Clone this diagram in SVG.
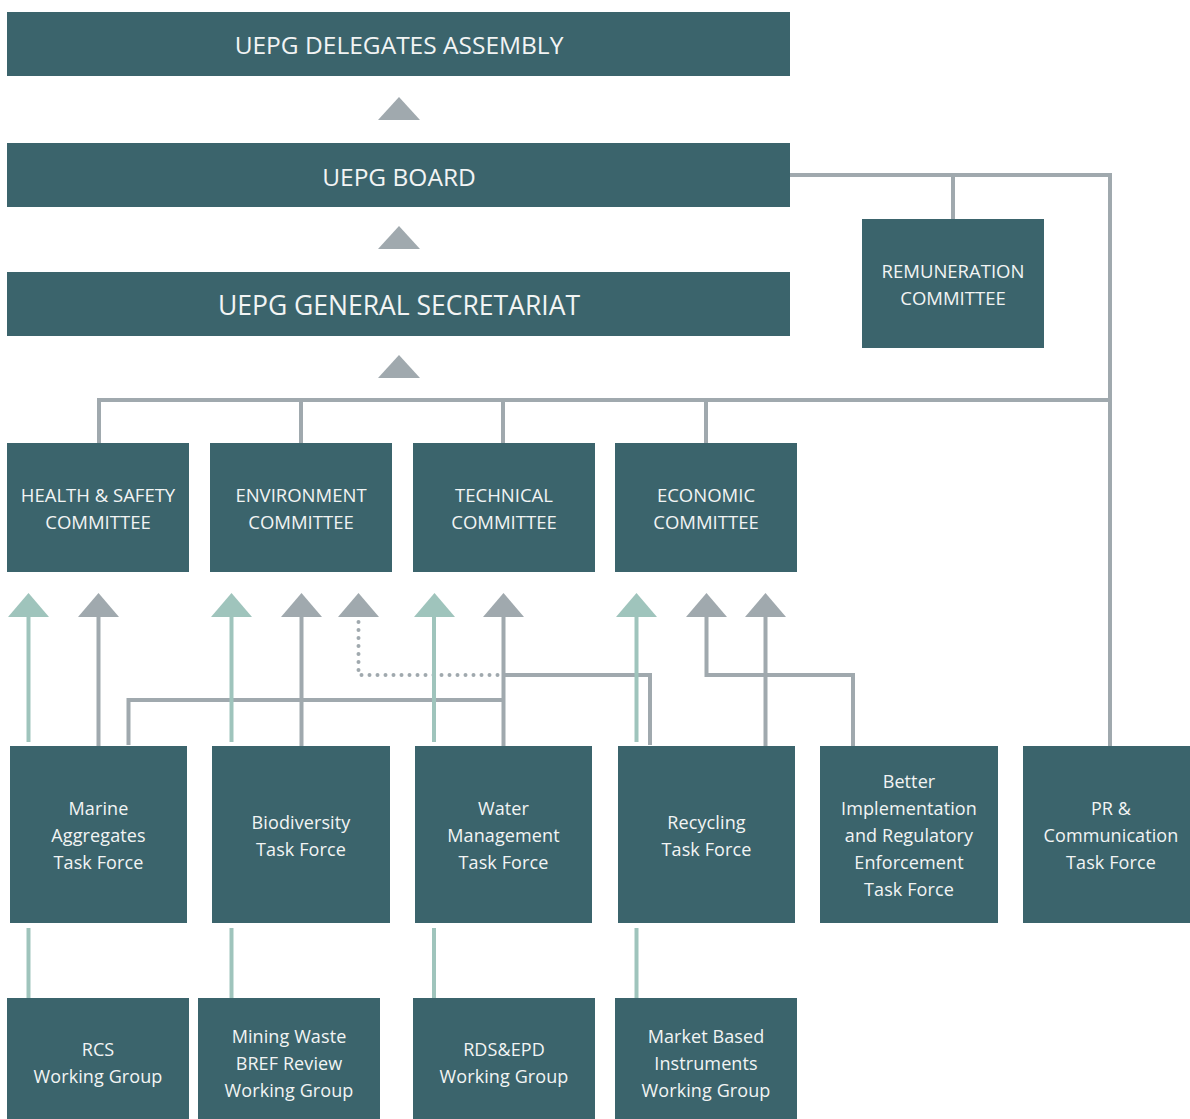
<svg xmlns="http://www.w3.org/2000/svg" width="1190" height="1119" viewBox="0 0 1190 1119">
<defs>
<style>
.box{fill:#3b646c}
.t{font-family:"Open Sans","Noto Sans",sans-serif;fill:#f2f4f4;text-anchor:middle;font-weight:500}
.big{font-size:24.5px}
.cap{font-size:18.5px}
.low{font-size:18px;letter-spacing:0.1px}
.g{stroke:#a0a9ae;stroke-width:4;fill:none}
.tl{stroke:#9fc4bc;stroke-width:4;fill:none}
.dot{stroke:#a0a9ae;stroke-width:4;fill:none;stroke-dasharray:0 8;stroke-linecap:round}
.ga{fill:#a0a9ae}
.ta{fill:#9fc4bc}
</style>
</defs>
<g id="connectors">
<polygon class="ga" points="378,120 420,120 399,97"/>
<polygon class="ga" points="378,249 420,249 399,226"/>
<polygon class="ga" points="378,378 420,378 399,355"/>
<polyline class="g" points="790,175 1110,175 1110,746"/>
<line class="g" x1="953" y1="175" x2="953" y2="219"/>
<polyline class="g" points="99,443 99,400 1110,400"/>
<line class="g" x1="301" y1="400" x2="301" y2="443"/>
<line class="g" x1="503" y1="400" x2="503" y2="443"/>
<line class="g" x1="706" y1="400" x2="706" y2="443"/>
<polygon class="ta" points="8,617 49,617 28.5,593"/>
<polygon class="ga" points="78,617 119,617 98.5,593"/>
<polygon class="ta" points="211,617 252,617 231.5,593"/>
<polygon class="ga" points="281,617 322,617 301.5,593"/>
<polygon class="ga" points="338,617 379,617 358.5,593"/>
<polygon class="ta" points="414,617 455,617 434.5,593"/>
<polygon class="ga" points="483,617 524,617 503.5,593"/>
<polygon class="ta" points="616,617 657,617 636.5,593"/>
<polygon class="ga" points="686,617 727,617 706.5,593"/>
<polygon class="ga" points="745,617 786,617 765.5,593"/>
<line class="tl" x1="28.5" y1="616" x2="28.5" y2="742"/>
<line class="g" x1="98.5" y1="616" x2="98.5" y2="746"/>
<polyline class="g" points="128.5,745 128.5,700 503.5,700"/>
<line class="tl" x1="231.5" y1="616" x2="231.5" y2="742"/>
<line class="g" x1="301.5" y1="616" x2="301.5" y2="746"/>
<polyline class="dot" points="358.5,622 358.5,675 500,675"/>
<line class="tl" x1="434" y1="616" x2="434" y2="742"/>
<line class="g" x1="503.5" y1="616" x2="503.5" y2="746"/>
<polyline class="g" points="503.5,675 650,675 650,745"/>
<line class="tl" x1="636.5" y1="616" x2="636.5" y2="742"/>
<polyline class="g" points="706.5,616 706.5,675 853,675 853,746"/>
<line class="g" x1="765.5" y1="616" x2="765.5" y2="746"/>
<line class="tl" x1="28.5" y1="928" x2="28.5" y2="998"/>
<line class="tl" x1="231.5" y1="928" x2="231.5" y2="998"/>
<line class="tl" x1="434" y1="928" x2="434" y2="998"/>
<line class="tl" x1="636.5" y1="928" x2="636.5" y2="998"/>
</g>
<g id="delegates"><rect class="box" x="7" y="12" width="783" height="64"/><text class="t big" x="399" y="54">UEPG DELEGATES ASSEMBLY</text></g>
<g id="board"><rect class="box" x="7" y="143" width="783" height="64"/><text class="t big" x="399" y="186">UEPG BOARD</text></g>
<g id="secretariat"><rect class="box" x="7" y="272" width="783" height="64"/><text class="t" style="font-size:26.5px" x="399" y="315">UEPG GENERAL SECRETARIAT</text></g>
<g id="remuneration"><rect class="box" x="862" y="219" width="182" height="129"/><text class="t cap" x="953" y="278">REMUNERATION</text><text class="t cap" x="953" y="305">COMMITTEE</text></g>
<g id="health"><rect class="box" x="7" y="443" width="182" height="129"/><text class="t cap" x="98" y="502">HEALTH &amp; SAFETY</text><text class="t cap" x="98" y="529">COMMITTEE</text></g>
<g id="environment"><rect class="box" x="210" y="443" width="182" height="129"/><text class="t cap" x="301" y="502">ENVIRONMENT</text><text class="t cap" x="301" y="529">COMMITTEE</text></g>
<g id="technical"><rect class="box" x="413" y="443" width="182" height="129"/><text class="t cap" x="504" y="502">TECHNICAL</text><text class="t cap" x="504" y="529">COMMITTEE</text></g>
<g id="economic"><rect class="box" x="615" y="443" width="182" height="129"/><text class="t cap" x="706" y="502">ECONOMIC</text><text class="t cap" x="706" y="529">COMMITTEE</text></g>
<g id="marine"><rect class="box" x="10" y="746" width="177" height="177"/><text class="t low" x="98.5" y="815">Marine</text><text class="t low" x="98.5" y="842">Aggregates</text><text class="t low" x="98.5" y="869">Task Force</text></g>
<g id="biodiversity"><rect class="box" x="212" y="746" width="178" height="177"/><text class="t low" x="301" y="829">Biodiversity</text><text class="t low" x="301" y="856">Task Force</text></g>
<g id="water"><rect class="box" x="415" y="746" width="177" height="177"/><text class="t low" x="503.5" y="815">Water</text><text class="t low" x="503.5" y="842">Management</text><text class="t low" x="503.5" y="869">Task Force</text></g>
<g id="recycling"><rect class="box" x="618" y="746" width="177" height="177"/><text class="t low" x="706.5" y="829">Recycling</text><text class="t low" x="706.5" y="856">Task Force</text></g>
<g id="better"><rect class="box" x="820" y="746" width="178" height="177"/><text class="t low" x="909" y="788">Better</text><text class="t low" x="909" y="815">Implementation</text><text class="t low" x="909" y="842">and Regulatory</text><text class="t low" x="909" y="869">Enforcement</text><text class="t low" x="909" y="896">Task Force</text></g>
<g id="pr"><rect class="box" x="1023" y="746" width="167" height="177"/><text class="t low" x="1111" y="815">PR &amp;</text><text class="t low" x="1111" y="842">Communication</text><text class="t low" x="1111" y="869">Task Force</text></g>
<g id="rcs"><rect class="box" x="7" y="998" width="182" height="121"/><text class="t low" x="98" y="1056">RCS</text><text class="t low" x="98" y="1083">Working Group</text></g>
<g id="mining"><rect class="box" x="198" y="998" width="182" height="121"/><text class="t low" x="289" y="1043">Mining Waste</text><text class="t low" x="289" y="1070">BREF Review</text><text class="t low" x="289" y="1097">Working Group</text></g>
<g id="rdsepd"><rect class="box" x="413" y="998" width="182" height="121"/><text class="t low" x="504" y="1056">RDS&amp;EPD</text><text class="t low" x="504" y="1083">Working Group</text></g>
<g id="market"><rect class="box" x="615" y="998" width="182" height="121"/><text class="t low" x="706" y="1043">Market Based</text><text class="t low" x="706" y="1070">Instruments</text><text class="t low" x="706" y="1097">Working Group</text></g>
</svg>
